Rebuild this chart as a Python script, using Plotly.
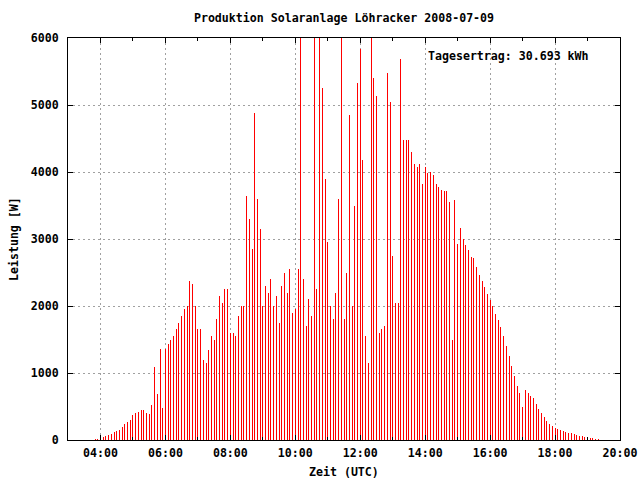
import plotly.graph_objects as go
import pandas as pd

# ---- data ----
start_time = "2008-07-09 03:50"
step = "5min"
power_w = [
    15, 15, 35, 45, 60, 75, 90, 120, 140, 155,
    195, 240, 275, 300, 375, 405, 420, 450, 450, 405,
    390, 525, 1090, 690, 1360, 480, 1360, 1435, 1500, 1550,
    1650, 1750, 1850, 1950, 2000, 2380, 2330, 2000, 1650, 1650,
    1200, 1150, 1350, 1550, 1500, 1800, 2150, 2050, 2250, 2250,
    1600, 1600, 1550, 1850, 2000, 2000, 3640, 3300, 2850, 4885,
    3600, 3150, 2000, 2300, 2200, 2400, 2000, 2150, 1750, 2300,
    2500, 2200, 2550, 1900, 1950, 2550, 6500, 2400, 1700, 2100,
    1850, 6500, 2250, 6500, 5260, 3890, 2950, 2000, 1800, 2200,
    3600, 6500, 1800, 2500, 4855, 2000, 3500, 5330, 5840, 4180,
    1550, 1150, 6500, 5410, 5140, 1600, 1650, 1700, 5480, 5050,
    2750, 2050, 2050, 5690, 4480, 4480, 4480, 4300, 4120, 4080,
    4120, 3820, 4080, 3990, 3993, 3960, 3825, 3780, 3735, 3720,
    3720, 3556, 1500, 3586, 2928, 3167, 2993, 2913, 2839, 2735,
    2720, 2585, 2466, 2376, 2287, 2182, 2093, 2003, 1884, 1794,
    1690, 1550, 1400, 1250, 1100, 950, 800, 700, 500, 750,
    700, 650, 620, 540, 465, 410, 345, 285, 240, 210,
    180, 160, 150, 135, 120, 110, 105, 90, 75, 60,
    60, 45, 30, 30, 30, 15, 15,
]
x_ticks_start = "2008-07-09 04:00"
x_range = ["2008-07-09 03:00", "2008-07-09 20:00"]
y_range = [0, 6000]
title_text = "Produktion Solaranlage Löhracker 2008-07-09"
yield_text = "Tagesertrag: 30.693 kWh"
x_title = "Zeit (UTC)"
y_title = "Leistung [W]"

times = pd.date_range(start_time, periods=len(power_w), freq=step)

FONT = dict(family="DejaVu Sans Mono", size=11.6, color="black", weight="bold")
GRID = "#a0a0a0"

W, H = 640, 480
ML, MR, MT, MB = 68, 20, 38, 40
plot_w = W - ML - MR
span_ms = 17 * 3600 * 1000
one_px_ms = span_ms / plot_w

fig = go.Figure(
    go.Bar(
        x=times,
        y=power_w,
        width=one_px_ms,
        marker=dict(color="rgba(255,0,0,0.999)", line=dict(width=0)),
        showlegend=False,
        hoverinfo="skip",
    )
)

axis_common = dict(
    showline=True,
    linecolor="black",
    linewidth=1,
    mirror="ticks",
    ticks="inside",
    tickcolor="black",
    ticklen=5,
    tickwidth=1,
    showgrid=True,
    gridcolor=GRID,
    gridwidth=1,
    griddash="2px,3px",
    zeroline=False,
    tickfont=FONT,
    automargin=False,
)

fig.update_xaxes(
    type="date",
    range=x_range,
    tick0=x_ticks_start,
    dtick=7200000,
    tickformat="%H:%M",
    minor=dict(ticks="inside", dtick=3600000, tick0=x_ticks_start, ticklen=3,
               tickcolor="black", showgrid=False),
    ticklabelstandoff=2,
    **axis_common,
)
fig.update_yaxes(
    range=y_range,
    dtick=1000,
    ticklabelstandoff=6,
    **axis_common,
)

fig.update_layout(
    width=W,
    height=H,
    autosize=False,
    margin=dict(l=ML, r=MR, t=MT, b=MB),
    paper_bgcolor="white",
    plot_bgcolor="white",
    bargap=0,
    hovermode=False,
    title=dict(text=title_text, x=0.5375, xanchor="center", y=1 - 18 / 480,
               yanchor="middle", font=FONT),
    annotations=[
        dict(text=yield_text, xref="paper", yref="paper", x=(426 - ML) / plot_w,
             y=(440 - 56) / 402, xanchor="left", yanchor="middle",
             showarrow=False, font=FONT),
        dict(text=x_title, xref="paper", yref="paper", x=0.5,
             y=(440 - 472) / 402, xanchor="center", yanchor="middle",
             showarrow=False, font=FONT),
        dict(text=y_title, xref="paper", yref="paper", x=(14 - ML) / plot_w,
             y=0.5, xanchor="center", yanchor="middle", textangle=-90,
             showarrow=False, font=FONT),
    ],
)

fig.write_html(
    "out.html",
    config={"displayModeBar": False, "responsive": False, "staticPlot": False},
    post_script="document.body.style.margin='0';document.body.style.overflow='hidden';",
)
